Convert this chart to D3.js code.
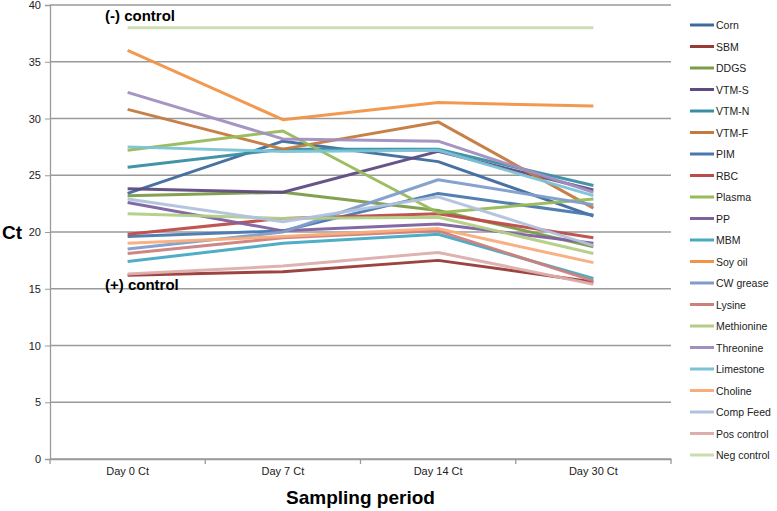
<!DOCTYPE html>
<html>
<head>
<meta charset="utf-8">
<script src="https://cdn.jsdelivr.net/npm/d3@7"></script>
<style>
  body { margin: 0; background: #fff; }
  svg text { font-family: "Liberation Sans", Arial, sans-serif; }
</style>
</head>
<body>
<div id="chart"></div>
<script>
'use strict';

const w = 777;
const h = 511;

// sampling days (x categories)
const days = ["Day 0 Ct", "Day 7 Ct", "Day 14 Ct", "Day 30 Ct"];

// feed ingredients, in legend order
const feeds = ["Corn", "SBM", "DDGS", "VTM-S", "VTM-N", "VTM-F", "PIM", "RBC", "Plasma", "PP",
  "MBM", "Soy oil", "CW grease", "Lysine", "Methionine", "Threonine", "Limestone", "Choline",
  "Comp Feed", "Pos control", "Neg control"];

// Ct values per day, same order as feeds
const day0 = [23.4, 16.2, 23.2, 23.8, 25.7, 30.8, 19.6, 19.8, 27.2, 22.6, 17.4, 36.0, 18.5, 18.1, 21.6, 32.3, 27.5, 19.0, 22.9, 16.3, 38.0];
const day7 = [28.0, 16.5, 23.5, 23.5, 27.3, 27.3, 20.1, 21.2, 28.9, 20.1, 19.0, 29.9, 20.0, 19.5, 21.2, 28.2, 27.1, 19.6, 20.9, 17.0, 38.0];
const day14 = [26.2, 17.5, 21.9, 27.1, 27.3, 29.7, 23.4, 21.6, 21.7, 20.7, 19.8, 31.4, 24.6, 20.1, 21.3, 28.0, 27.2, 20.3, 23.1, 18.2, 38.0];
const day30 = [21.4, 15.6, 18.7, 23.7, 24.1, 22.1, 21.5, 19.5, 22.9, 19.0, 15.9, 31.1, 22.4, 15.7, 18.1, 23.5, 23.2, 17.3, 18.8, 15.4, 38.0];

const yTicks = [0, 5, 10, 15, 20, 25, 30, 35, 40];

const colors = ["#3e6a9c", "#983a37", "#7c9c47", "#5f4b82", "#3a8ea4", "#c47a3e",
  "#4a78ae", "#bd4c49", "#98ba57", "#7d62a0", "#47a9c3", "#f19348",
  "#7f9dcb", "#cd7f7c", "#b3cd86", "#a08fc0", "#7cc3d6", "#f7ad7b",
  "#b0c2dd", "#dcaeac", "#cadcae"];

const svg = d3.select("#chart").append("svg")
  .attr("width", w)
  .attr("height", h);

const margin = { left: 50, right: 106, top: 5, bottom: 52 };
const plotW = w - margin.left - margin.right;
const plotH = h - margin.top - margin.bottom;

const x = d3.scaleBand()
  .domain(days)
  .range([margin.left, margin.left + plotW]);

const y = d3.scaleLinear()
  .domain([0, 40])
  .range([margin.top + plotH, margin.top]);

// gridlines
svg.append("g")
  .selectAll("line")
  .data(yTicks)
  .enter().append("line")
  .attr("x1", margin.left)
  .attr("x2", margin.left + plotW)
  .attr("y1", d => y(d))
  .attr("y2", d => y(d))
  .attr("stroke", "#9a9a9a")
  .attr("stroke-width", 1.3);

// y axis
const yAxis = svg.append("g")
  .attr("transform", `translate(${margin.left},0)`)
  .call(d3.axisLeft(y).tickValues(yTicks).tickSize(5).tickPadding(4));
yAxis.select(".domain").attr("stroke", "#9a9a9a").attr("stroke-width", 1.3);
yAxis.selectAll(".tick line").attr("stroke", "#9a9a9a");
yAxis.selectAll(".tick text").attr("font-size", 11).attr("fill", "#222");

// x axis: ticks sit between the categories like Excel
const xAxis = svg.append("g")
  .attr("transform", `translate(0,${y(0)})`)
  .call(d3.axisBottom(x).tickSize(0).tickPadding(8));
xAxis.select(".domain").attr("stroke", "#9a9a9a").attr("stroke-width", 1.3);
xAxis.selectAll(".tick text").attr("font-size", 11).attr("fill", "#222");

const bounds = days.map(d => x(d)).concat([x(days[days.length - 1]) + x.bandwidth()]);
xAxis.selectAll(".sep")
  .data(bounds)
  .enter().append("line")
  .attr("x1", d => d).attr("x2", d => d)
  .attr("y1", 0).attr("y2", 5)
  .attr("stroke", "#9a9a9a")
  .attr("stroke-width", 1.3);

// series
const table = feeds.map((name, i) => ({
  name: name,
  color: colors[i],
  values: [day0[i], day7[i], day14[i], day30[i]]
}));

const line = d3.line()
  .x((d, i) => x(days[i]) + x.bandwidth() / 2)
  .y(d => y(d));

svg.append("g")
  .selectAll("path")
  .data(table)
  .enter().append("path")
  .attr("d", d => line(d.values))
  .attr("fill", "none")
  .attr("stroke", d => d.color)
  .attr("stroke-width", 3)
  .attr("stroke-linejoin", "round")
  .attr("stroke-opacity", 0.95);

// annotations
svg.append("text")
  .attr("x", 105).attr("y", 21)
  .attr("font-size", 15).attr("font-weight", "bold")
  .text("(-) control");

svg.append("text")
  .attr("x", 105).attr("y", 290)
  .attr("font-size", 15).attr("font-weight", "bold")
  .text("(+) control");

// axis titles
svg.append("text")
  .attr("x", 2).attr("y", y(20) + 7)
  .attr("font-size", 19).attr("font-weight", "bold")
  .text("Ct");

svg.append("text")
  .attr("x", margin.left + plotW / 2).attr("y", 504)
  .attr("text-anchor", "middle")
  .attr("font-size", 19).attr("font-weight", "bold")
  .text("Sampling period");

// legend
const legendTop = 25;
const legendStep = 21.5;

const legendItem = svg.append("g")
  .selectAll("g")
  .data(table)
  .enter().append("g")
  .attr("transform", (d, i) => `translate(690,${legendTop + legendStep * i})`);

legendItem.append("line")
  .attr("x1", 0).attr("x2", 24)
  .attr("stroke", d => d.color)
  .attr("stroke-width", 3);

legendItem.append("text")
  .attr("x", 26).attr("y", 4)
  .attr("font-size", 10.5)
  .attr("fill", "#222")
  .text(d => d.name);
</script>
</body>
</html>
